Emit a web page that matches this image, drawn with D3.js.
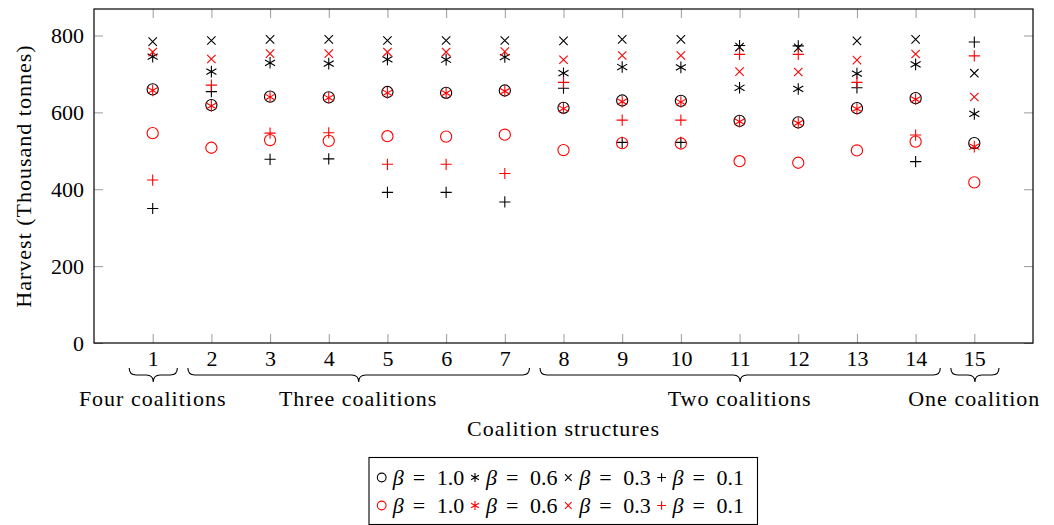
<!DOCTYPE html>
<html>
<head>
<meta charset="utf-8">
<script src="https://cdn.jsdelivr.net/npm/d3@7"></script>
<style>
  body { margin: 0; background: #fff; }
  svg { display: block; font-family: "Liberation Serif", "DejaVu Serif", serif; }
</style>
</head>
<body>
<div class="harvestChart"></div>
<script>
// categories (coalition structures) and the values
const categories = [1, 2, 3, 4, 5, 6, 7, 8, 9, 10, 11, 12, 13, 14, 15];
const yTicks = [0, 200, 400, 600, 800];

// black series
const blackBeta10 = [660, 619, 641, 639, 653, 651, 657, 612, 631, 630, 578, 574, 611, 637, 520];
const blackBeta06 = [745, 706, 729, 727, 738, 737, 744, 702, 718, 717, 664, 661, 701, 725, 596];
const blackBeta03 = [784, 787, 790, 790, 787, 787, 787, 786, 790, 790, 770, 768, 786, 790, 702];
const blackBeta01 = [350, 654, 478, 479, 392, 392, 367, 663, 522, 522, 774, 773, 664, 472, 783];
// red series
const redBeta10 = [546, 508, 528, 526, 538, 537, 542, 502, 520, 519, 473, 469, 501, 524, 418];
const redBeta06 = [657, 617, 640, 638, 651, 650, 655, 610, 628, 627, 576, 572, 609, 634, 511];
const redBeta03 = [757, 739, 753, 753, 757, 757, 758, 737, 748, 748, 706, 705, 736, 752, 640];
const redBeta01 = [424, 671, 546, 547, 465, 465, 441, 678, 580, 580, 751, 751, 678, 541, 747];

const betaLabels = ["1.0", "0.6", "0.3", "0.1"];
const groupNames = ["Four coalitions", "Three coalitions", "Two coalitions", "One coalition"];
const groupFirst = [1, 2, 8, 15];
const groupLast = [1, 7, 14, 15];

const W = 1054, H = 525;
const plotLeft = 94, plotRight = 1033, plotTop = 9, plotBottom = 343;
const tickLen = 9;
const fontSize = 22;
const wordSpacing = "1px"; // CM text runs wider than Liberation

const shapes = ["circle", "asterisk", "cross", "plus"];
const series = [
  { color: "#000", values: [blackBeta10, blackBeta06, blackBeta03, blackBeta01] },
  { color: "#f00", values: [redBeta10, redBeta06, redBeta03, redBeta01] },
];

// marker outlines, drawn as stroke only like pgfplots marks
const markPath = (shape, k) => {
  const s = k || 1;
  if (shape === "circle") {
    const r = 5.6 * s;
    return `M${r},0A${r},${r} 0 1,1 ${-r},0A${r},${r} 0 1,1 ${r},0`;
  }
  if (shape === "cross") {
    const a = 4.2 * s;
    return `M${-a},${-a}L${a},${a}M${-a},${a}L${a},${-a}`;
  }
  if (shape === "plus") {
    const a = 5.6 * s;
    return `M${-a},0L${a},0M0,${-a}L0,${a}`;
  }
  // asterisk: one vertical bar and two at +-30deg
  const a = 5.8 * s;
  const cx = a * Math.cos(Math.PI / 6), cy = a * Math.sin(Math.PI / 6);
  return `M0,${-a}L0,${a}M${-cx},${-cy}L${cx},${cy}M${-cx},${cy}L${cx},${-cy}`;
};

const svg = d3.select(".harvestChart").append("svg").attr("width", W).attr("height", H);

const x = d3.scaleLinear().domain([0, 16]).range([plotLeft, plotRight]);
const y = d3.scaleLinear().domain([0, 869]).range([plotBottom, plotTop]);

/* -1- axes: ticks inside on all four sides, labels left and bottom */
const tickStyle = (g) => {
  g.select(".domain").remove();
  g.selectAll(".tick line").attr("stroke", "#9a9a9a").attr("stroke-width", 1);
  g.selectAll("text").attr("fill", "#000").style("font-size", fontSize + "px")
    .style("font-family", "Liberation Serif, serif");
};
svg.append("g").attr("transform", `translate(${plotLeft},0)`)
  .call(d3.axisLeft(y).tickValues(yTicks).tickSize(-tickLen).tickPadding(10))
  .call(tickStyle);
svg.append("g").attr("transform", `translate(${plotRight},0)`)
  .call(d3.axisRight(y).tickValues(yTicks).tickSize(-tickLen).tickFormat(""))
  .call(tickStyle);
svg.append("g").attr("transform", `translate(0,${plotBottom})`)
  .call(d3.axisBottom(x).tickValues(categories).tickSize(-tickLen).tickPadding(7))
  .call(tickStyle);
svg.append("g").attr("transform", `translate(0,${plotTop})`)
  .call(d3.axisTop(x).tickValues(categories).tickSize(-tickLen).tickFormat(""))
  .call(tickStyle);

svg.append("rect")
  .attr("x", plotLeft).attr("y", plotTop)
  .attr("width", plotRight - plotLeft).attr("height", plotBottom - plotTop)
  .attr("fill", "none").attr("stroke", "#000").attr("stroke-width", 1.2);

/* -2- the marks */
series.forEach((s) => {
  s.values.forEach((vals, i) => {
    svg.append("g")
      .selectAll("path")
      .data(vals)
      .enter()
      .append("path")
      .attr("transform", (d, j) => `translate(${x(categories[j])},${y(d)})`)
      .attr("d", markPath(shapes[i]))
      .attr("fill", "none")
      .attr("stroke", s.color)
      .attr("stroke-width", 1.1);
  });
});

/* -3- braces and group names under the tick labels */
const brace = (x1, x2, y0, h) => {
  const m = (x1 + x2) / 2, q = h / 2, e = 7;
  return `M${x1},${y0}Q${x1},${y0 + q} ${x1 + e},${y0 + q}L${m - e},${y0 + q}` +
    `Q${m},${y0 + q} ${m},${y0 + h}Q${m},${y0 + q} ${m + e},${y0 + q}` +
    `L${x2 - e},${y0 + q}Q${x2},${y0 + q} ${x2},${y0}`;
};
groupNames.forEach((name, i) => {
  svg.append("path")
    .attr("d", brace(x(groupFirst[i] - 0.4), x(groupLast[i] + 0.42), 368, 14))
    .attr("fill", "none").attr("stroke", "#000").attr("stroke-width", 1.1);
  svg.append("text")
    .attr("x", x((groupFirst[i] + groupLast[i]) / 2)).attr("y", 406)
    .attr("text-anchor", "middle").style("font-size", fontSize + "px")
    .style("letter-spacing", wordSpacing)
    .text(name);
});

svg.append("text")
  .attr("x", (plotLeft + plotRight) / 2).attr("y", 436)
  .attr("text-anchor", "middle").style("font-size", fontSize + "px")
  .style("letter-spacing", wordSpacing)
  .text("Coalition structures");

svg.append("text")
  .attr("transform", `translate(31,${(plotTop + plotBottom) / 2}) rotate(-90)`)
  .attr("text-anchor", "middle").style("font-size", fontSize + "px")
  .style("letter-spacing", wordSpacing)
  .text("Harvest (Thousand tonnes)");

/* -4- legend: one row per colour, one column per beta */
const legend = svg.append("g");
legend.append("rect")
  .attr("x", 369).attr("y", 457.5).attr("width", 388.5).attr("height", 67)
  .attr("fill", "#fff").attr("stroke", "#000").attr("stroke-width", 1.1);
series.forEach((s, r) => {
  const base = 484.5 + r * 28;
  betaLabels.forEach((lab, i) => {
    const mx = 381.7 + i * 93.3;
    legend.append("path")
      .attr("transform", `translate(${mx},${base - 7})`)
      .attr("d", markPath(shapes[i], 0.78))
      .attr("fill", "none").attr("stroke", s.color).attr("stroke-width", 1.1);
    const t = legend.append("text")
      .attr("y", base)
      .style("font-size", fontSize + "px");
    t.append("tspan").attr("x", mx + 11).style("font-style", "italic").text("\u03b2");
    t.append("tspan").attr("x", mx + 31).text("=");
    t.append("tspan").attr("x", mx + 55).text(lab);
  });
});
</script>
</body>
</html>
